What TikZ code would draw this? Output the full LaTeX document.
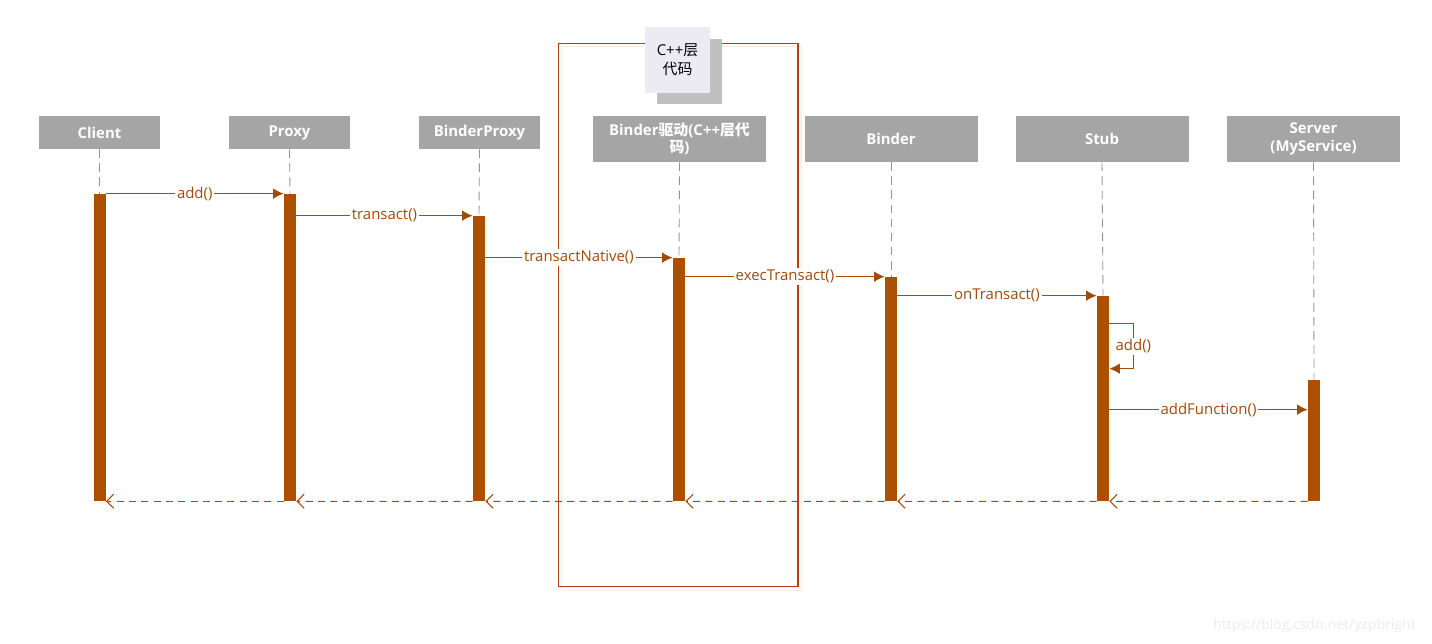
\documentclass[tikz,border=0pt]{standalone}
\usepackage{fontspec}
\setmainfont{Open Sans}
\newfontfamily\cjk{Noto Sans CJK SC}
\usetikzlibrary{arrows.meta}
\definecolor{headgray}{RGB}{165,165,165}
\definecolor{barbrown}{RGB}{170,80,0}
\definecolor{msgbrown}{RGB}{160,75,10}
\definecolor{framered}{RGB}{185,60,15}
\definecolor{notefill}{RGB}{236,234,242}
\definecolor{noteshadow}{RGB}{192,192,192}

\begin{document}
\begin{tikzpicture}[x=0.02cm, y=-0.02cm]
\tikzstyle{head} = [rectangle, fill=headgray, text=white, font=\fontsize{8.5}{10}\selectfont\bfseries, align=center, inner sep=0pt, minimum width=2.42cm, minimum height=0.66cm]
\tikzstyle{widehead} = [head, minimum width=3.46cm, minimum height=0.92cm]
\tikzstyle{bar} = [rectangle, fill=barbrown, inner sep=0pt, minimum width=0.24cm]
\tikzstyle{lifeline} = [gray!85, dash pattern=on 5pt off 3pt, line width=0.5pt]
\tikzstyle{msg} = [msgbrown, line width=0.6pt, -{Latex[length=6pt, width=6pt]}]
\tikzstyle{ret} = [msgbrown, line width=0.6pt, dash pattern=on 4pt off 3pt, -{Straight Barb[length=4pt, width=8pt]}]
\tikzstyle{lbl} = [fill=white, text=msgbrown, inner sep=1pt, font=\fontsize{8.5}{10}\selectfont]

\useasboundingbox (0,0) rectangle (1432,644);

\node (cppinner) [draw=framered!10, line width=0.6pt, minimum width=4.8cm, minimum height=10.88cm, inner sep=0pt] at (681.5,318.5) {};
\node (cppframe) [draw=framered, line width=0.6pt, minimum width=4.8cm, minimum height=10.88cm, inner sep=0pt] at (678,315) {};
\node (noteshade) [fill=noteshadow, minimum width=1.3cm, minimum height=1.3cm, inner sep=0pt] at (689.5,71.5) {};
\node (note) [fill=notefill, minimum width=1.3cm, minimum height=1.32cm, inner sep=0pt, align=center, font=\fontsize{8.5}{11}\selectfont] at (677.5,60) {C++{\cjk 层}\\{\cjk 代码}};

\node (client) [head] at (99.5,132.5) {Client};
\node (proxy) [head] at (289.5,132.5) {Proxy};
\node (bproxy) [head] at (479.5,132.5) {BinderProxy};
\node (driver) [widehead] at (679.5,139) {Binder{\cjk 驱动}(C++{\cjk 层代}\\{\cjk 码})};
\node (binder) [widehead] at (891,139) {Binder};
\node (stub) [widehead] at (1102,139) {Stub};
\node (server) [widehead] at (1313.5,139) {Server\\(MyService)};

\node (clientbar) [bar, minimum height=6.14cm] at (99.5,347.5) {};
\node (proxybar) [bar, minimum height=6.14cm] at (290,347.5) {};
\node (bproxybar) [bar, minimum height=5.7cm] at (479,358.5) {};
\node (driverbar) [bar, minimum height=4.86cm] at (679,379.5) {};
\node (binderbar) [bar, minimum height=4.48cm] at (891,389) {};
\node (stubbar) [bar, minimum height=4.1cm] at (1103,398.5) {};
\node (serverbar) [bar, minimum height=2.42cm] at (1314,440.5) {};

\draw [lifeline] (client.south) -- (clientbar.north);
\draw [lifeline] (proxy.south) -- (proxybar.north);
\draw [lifeline] (bproxy.south) -- (bproxybar.north);
\draw [lifeline] (driver.south) -- (driverbar.north);
\draw [lifeline] (binder.south) -- (binderbar.north);
\draw [lifeline] (stub.south) -- (stubbar.north);
\draw [lifeline] (server.south) -- (serverbar.north);

\draw [msg] (clientbar.north east) -- node[lbl] {add()} (proxybar.north west);
\draw [msg] (proxybar.east |- bproxybar.north) -- node[lbl] {transact()} (bproxybar.north west);
\draw [msg] (bproxybar.east |- driverbar.north) -- node[lbl] {transactNative()} (driverbar.north west);
\draw [msg] (driverbar.east |- binderbar.north) -- node[lbl] {execTransact()} (binderbar.north west);
\draw [msg] (binderbar.east |- stubbar.north) -- node[lbl] {onTransact()} (stubbar.north west);
\draw [msg] (stubbar.north east) ++(0,28) -- ++(24,0) -- node[lbl] {add()} ++(0,45) -- ++(-24,0);
\draw [msg] ([yshift=-0.6cm]stubbar.east |- serverbar.north) -- node[lbl] {addFunction()} ([yshift=-0.6cm]serverbar.north west);

\draw [ret] (proxybar.south west) -- (clientbar.south east);
\draw [ret] (bproxybar.south west) -- (proxybar.south east);
\draw [ret] (driverbar.south west) -- (bproxybar.south east);
\draw [ret] (binderbar.south west) -- (driverbar.south east);
\draw [ret] (stubbar.south west) -- (binderbar.south east);
\draw [ret] (serverbar.south west) -- (stubbar.south east);

\node (mark) [text=black!8, font=\fontsize{8}{9}\selectfont, anchor=east] at (1422,626) {https://blog.csdn.net/yzpbright};
\end{tikzpicture}
\end{document}
